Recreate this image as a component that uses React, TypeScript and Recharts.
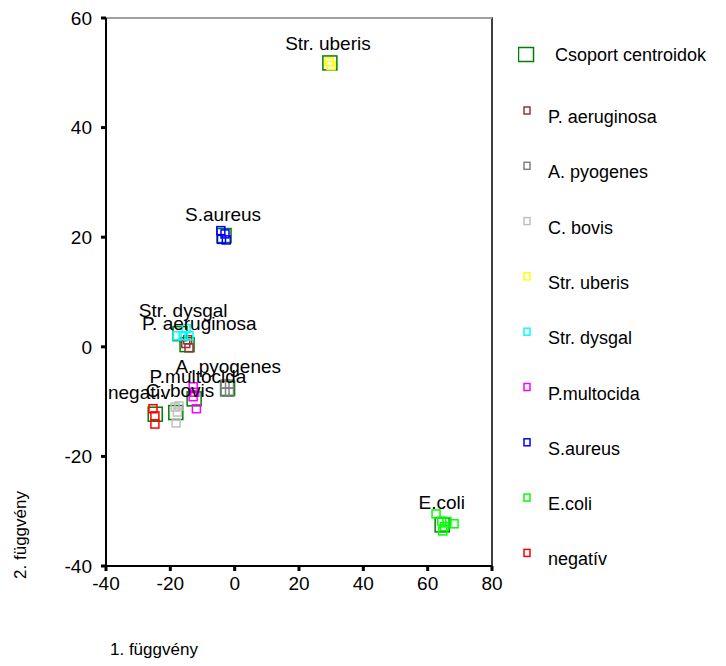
import { ScatterChart, Scatter, XAxis, YAxis, ReferenceArea, ReferenceLine } from 'recharts'

const FONT = '"Liberation Sans", Arial, sans-serif'

const groupNames = ['P. aeruginosa', 'A. pyogenes', 'C. bovis', 'Str. uberis', 'Str. dysgal', 'P.multocida', 'S.aureus', 'E.coli', 'negatív']
const groupColors = ['#993333', '#808080', '#c0c0c0', '#ffff00', '#00ffff', '#ff00ff', '#0000ff', '#00ff00', '#ff0000']

const pAeruginosa = [{ x: -15.2, y: 0.6 }, { x: -14.2, y: -0.2 }, { x: -14.6, y: 1.3 }]
const aPyogenes = [{ x: -3, y: -6.8 }, { x: -1.6, y: -6.8 }, { x: -3, y: -8.3 }, { x: -1.6, y: -8.3 }]
const cBovis = [{ x: -18.5, y: -11 }, { x: -17.8, y: -11.9 }, { x: -18.2, y: -13.9 }, { x: -17.3, y: -10.8 }]
const strUberis = [{ x: 29.4, y: 52 }, { x: 30, y: 51.3 }]
const strDysgal = [{ x: -17.9, y: 2 }, { x: -16, y: 2 }, { x: -14.2, y: 2 }, { x: -15.1, y: 3.3 }]
const pMultocida = [{ x: -12.9, y: -7.3 }, { x: -12.9, y: -9.1 }, { x: -11.9, y: -11.3 }, { x: -12.4, y: -8.3 }]
const sAureus = [{ x: -4.3, y: 21.2 }, { x: -2.6, y: 19.5 }, { x: -4.1, y: 19.6 }, { x: -3, y: 20.6 }]
const eColi = [{ x: 62.6, y: -30.5 }, { x: 64.4, y: -31.8 }, { x: 66, y: -31.9 }, { x: 68.2, y: -32.3 }, { x: 64.7, y: -33.6 }, { x: 65.2, y: -32.8 }]
const negativ = [{ x: -25.4, y: -11.3 }, { x: -24.8, y: -12.6 }, { x: -24.8, y: -14.1 }]

const groupPoints = [pAeruginosa, aPyogenes, cBovis, strUberis, strDysgal, pMultocida, sAureus, eColi, negativ]

const centroids = [
  { x: -14.8, y: 0.4 },
  { x: -2.2, y: -7.6 },
  { x: -18.3, y: -12 },
  { x: 29.6, y: 51.8 },
  { x: -17, y: 2.4 },
  { x: -12.6, y: -9.5 },
  { x: -3.3, y: 20.3 },
  { x: 64.5, y: -32.5 },
  { x: -24.7, y: -12.3 },
]

// group labels as drawn above the clusters (bottom-centre of text, data units)
const labelPoints = [
  { x: -11, y: 3.1, text: 'P. aeruginosa' },
  { x: -2, y: -4.7, text: 'A. pyogenes' },
  { x: -17, y: -9.1, text: 'C. bovis' },
  { x: 29, y: 54.2, text: 'Str. uberis' },
  { x: -16, y: 5.5, text: 'Str. dysgal' },
  { x: -11.4, y: -6.6, text: 'P.multocida' },
  { x: -3.6, y: 23, text: 'S.aureus' },
  { x: 64.4, y: -29.6, text: 'E.coli' },
  { x: -29.7, y: -9.5, text: 'negatív' },
]

const xTicks = [-40, -20, 0, 20, 40, 60, 80]
const yTicks = [-40, -20, 0, 20, 40, 60]

const square = (size: number, color: string, sw: number) => (props: any) => (
  <rect x={props.cx - size / 2} y={props.cy - size / 2} width={size} height={size} fill="none" stroke={color} strokeWidth={sw} />
)

const labelShape = (props: any) => (
  <text x={props.cx} y={props.cy} textAnchor="middle" fontSize={19} fontFamily={FONT} fill="#000">
    {props.payload.text}
  </text>
)

function LegendBox() {
  return (
    <svg width={208} height={600} style={{ position: 'absolute', left: 518, top: 0 }}>
      <rect x={0.5} y={47.5} width={15} height={14} fill="none" stroke="#008000" strokeWidth={1.5} />
      <text x={37} y={61} fontSize={18} fontFamily={FONT}>Csoport centroidok</text>
      {groupNames.map((n, i) => (
        <g key={n}>
          <rect x={6} y={107 + i * 55.3} width={6} height={7} fill="none" stroke={groupColors[i]} strokeWidth={1.5} />
          <text x={30} y={123 + i * 55.3} fontSize={18} fontFamily={FONT}>{n}</text>
        </g>
      ))}
    </svg>
  )
}

export default function App() {
  return (
    <div style={{ position: 'absolute', left: 0, top: 0, width: 726, height: 666, background: '#fff' }}>
      <ScatterChart width={726} height={666} margin={{ top: 18, right: 234, bottom: 60, left: 46 }}>
        <XAxis
          type="number"
          dataKey="x"
          domain={[-40, 80]}
          ticks={xTicks}
          height={40}
          stroke="#000"
          strokeWidth={2}
          tickSize={5}
          tickMargin={6}
          tickLine={{ stroke: '#000', strokeWidth: 3 }}
          tick={{ fill: '#000', fontSize: 19, fontFamily: FONT }}
        />
        <YAxis
          type="number"
          dataKey="y"
          domain={[-40, 60]}
          ticks={yTicks}
          width={60}
          stroke="#000"
          strokeWidth={2}
          tickSize={5}
          tickMargin={9}
          tickLine={{ stroke: '#000', strokeWidth: 3 }}
          tick={{ fill: '#000', fontSize: 19, fontFamily: FONT }}
        />
        <ReferenceArea x1={-40} x2={80} y1={-40} y2={60} fill="none" stroke="#000" strokeWidth={1.5} />
        <ReferenceLine y={60} stroke="#a0a0a0" strokeWidth={2} />
        <Scatter data={centroids} isAnimationActive={false} shape={square(14, '#008000', 1.5)} />
        {groupPoints.map((pts, i) => (
          <Scatter key={groupNames[i]} data={pts} isAnimationActive={false} shape={square(8, groupColors[i], 1.5)} />
        ))}
        <Scatter data={labelPoints} isAnimationActive={false} shape={labelShape} />
      </ScatterChart>
      <LegendBox />
      <svg width={726} height={666} style={{ position: 'absolute', left: 0, top: 0, pointerEvents: 'none' }}>
        <text x={26} y={535} transform="rotate(-90 26 535)" textAnchor="middle" fontSize={17} fontFamily={FONT}>2. függvény</text>
        <text x={110} y={655} fontSize={17} fontFamily={FONT}>1. függvény</text>
      </svg>
    </div>
  )
}
